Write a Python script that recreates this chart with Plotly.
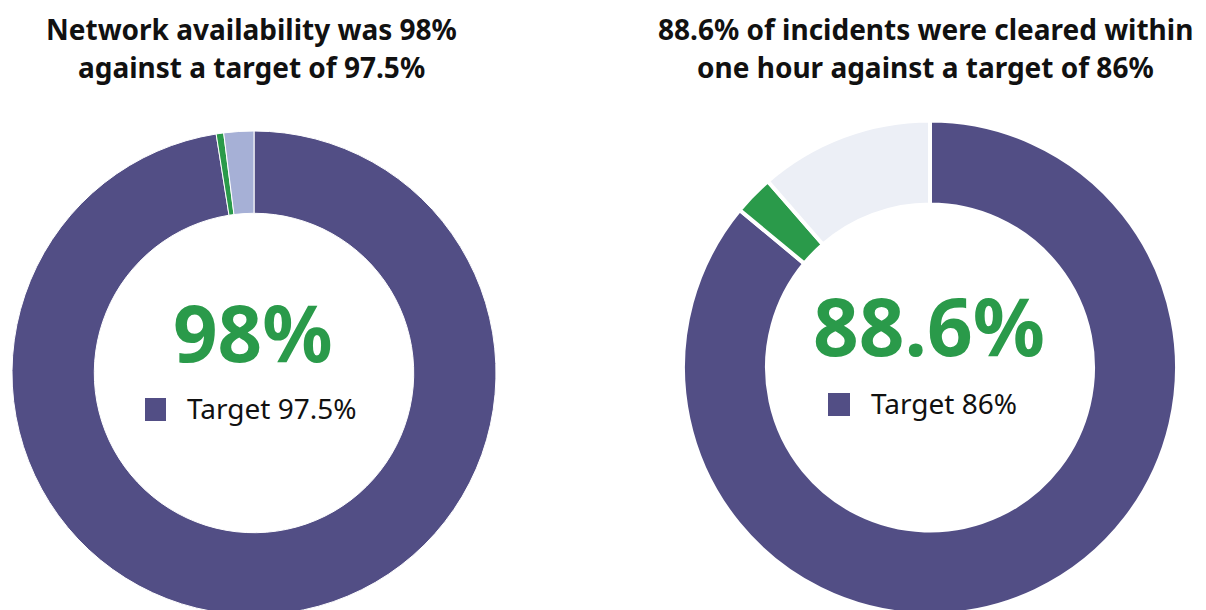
import plotly.graph_objects as go

# Data
left_labels = ["Target 97.5%", "Above target", "Unavailable"]
left_values = [97.5, 0.5, 2.0]
right_labels = ["Target 86%", "Above target", "Not cleared"]
right_values = [86.0, 2.6, 11.4]
left_title = ["Network availability was 98%", "against a target of 97.5%"]
right_title = ["88.6% of incidents were cleared within", "one hour against a target of 86%"]
left_big = "98%"
right_big = "88.6%"
left_legend = "Target 97.5%"
right_legend = "Target 86%"

PURPLE = "#524E85"
GREEN = "#2A9A4A"
LIGHT_L = "#A6B0D6"
LIGHT_R = "#ECEFF6"
FONT = "Noto Sans"
W, H = 1206, 610

def px(x):
    return x / W

def py(y):
    return 1 - y / H

fig = go.Figure()
fig.add_trace(go.Pie(
    labels=left_labels, values=left_values, hole=0.66, sort=False,
    direction="clockwise", rotation=0, textinfo="none", hoverinfo="label+value",
    marker=dict(colors=[PURPLE, GREEN, LIGHT_L], line=dict(color="white", width=1)),
    domain=dict(x=[px(4), px(488)], y=[0, py(120)]), showlegend=False,
))
fig.add_trace(go.Pie(
    labels=right_labels, values=right_values, hole=0.66, sort=False,
    direction="clockwise", rotation=0, textinfo="none", hoverinfo="label+value",
    marker=dict(colors=[PURPLE, GREEN, LIGHT_R], line=dict(color="white", width=4)),
    domain=dict(x=[px(675), px(1169)], y=[0, py(109)]), showlegend=False,
))

ann = []
for i, (lt, rt) in enumerate(zip(left_title, right_title)):
    yy = [0, 38][i]
    ann.append(dict(text=lt, x=px(243), y=py(yy), xref="paper", yref="paper",
                    showarrow=False, font=dict(family=FONT, size=28, color="#111111", weight="bold"),
                    xanchor="center", yanchor="top"))
    ann.append(dict(text=rt, x=px(917), y=py(yy), xref="paper", yref="paper",
                    showarrow=False, font=dict(family=FONT, size=28, color="#111111", weight="bold"),
                    xanchor="center", yanchor="top"))
ann.append(dict(text=left_big, x=px(245), y=py(324), xref="paper", yref="paper",
                showarrow=False, font=dict(family=FONT, size=78, color=GREEN, weight="bold"),
                xanchor="center", yanchor="middle"))
ann.append(dict(text=right_big, x=px(921), y=py(316), xref="paper", yref="paper",
                showarrow=False, font=dict(family=FONT, size=80, color=GREEN, weight="bold"),
                xanchor="center", yanchor="middle"))
ann.append(dict(text=left_legend, x=px(177), y=py(400), xref="paper", yref="paper",
                showarrow=False, font=dict(family=FONT, size=28, color="#111111"),
                xanchor="left", yanchor="middle"))
ann.append(dict(text=right_legend, x=px(861), y=py(395), xref="paper", yref="paper",
                showarrow=False, font=dict(family=FONT, size=28, color="#111111"),
                xanchor="left", yanchor="middle"))

shapes = [
    dict(type="rect", xref="paper", yref="paper", x0=px(137), x1=px(158), y0=py(413), y1=py(390),
         fillcolor=PURPLE, line=dict(width=0)),
    dict(type="rect", xref="paper", yref="paper", x0=px(820), x1=px(842), y0=py(408), y1=py(385),
         fillcolor=PURPLE, line=dict(width=0)),
]

fig.update_layout(
    width=W, height=H, margin=dict(l=0, r=0, t=0, b=0),
    paper_bgcolor="white", plot_bgcolor="white",
    annotations=ann, shapes=shapes, showlegend=False,
)
fig.write_html("out.html")
